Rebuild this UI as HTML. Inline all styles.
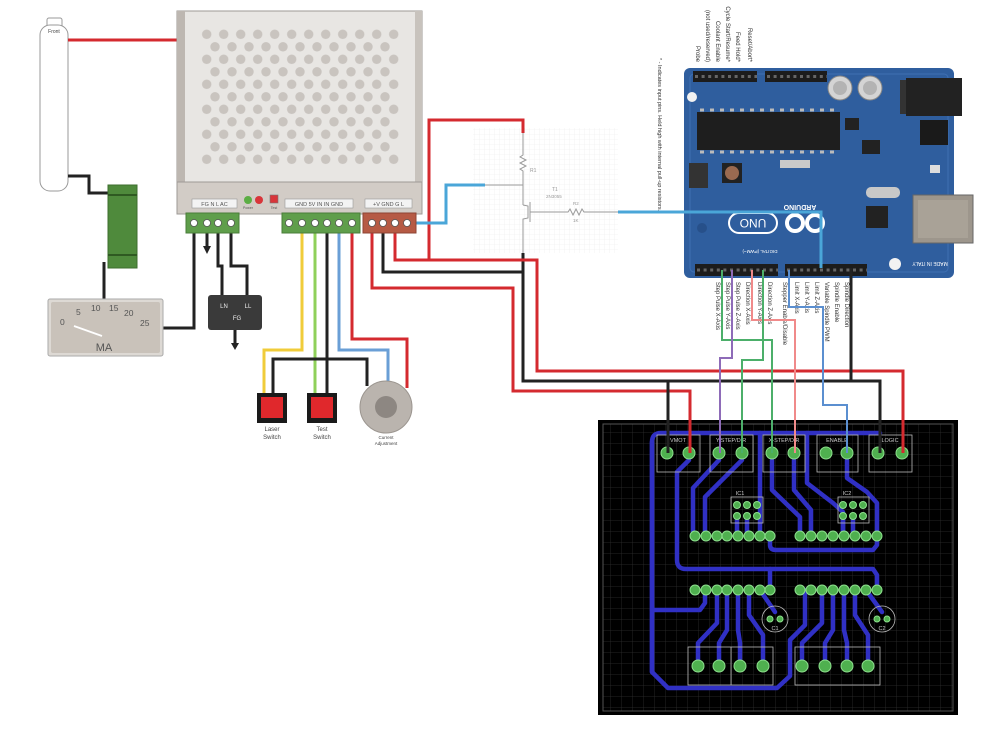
<!DOCTYPE html>
<html><head><meta charset="utf-8"><style>
html,body{margin:0;padding:0;background:#fff;}
svg{display:block;}
text{font-family:"Liberation Sans",sans-serif;}
</style></head><body>
<svg width="990" height="729" viewBox="0 0 990 729" xmlns="http://www.w3.org/2000/svg">
<defs>
<pattern id="dA" patternUnits="userSpaceOnUse" x="198.2" y="28.05" width="17" height="25"><circle cx="8.5" cy="6.25" r="4.7" fill="#c9c4bf"/></pattern>
<pattern id="dB" patternUnits="userSpaceOnUse" x="206.5" y="40.55" width="17" height="25"><circle cx="8.5" cy="6.25" r="4.7" fill="#c9c4bf"/></pattern>
<pattern id="sg" patternUnits="userSpaceOnUse" width="5" height="5"><path d="M5 0V5H0" fill="none" stroke="#ebebeb" stroke-width="0.6"/></pattern>
<pattern id="pg" patternUnits="userSpaceOnUse" x="600" y="422" width="11" height="11"><path d="M11 0V11H0" fill="none" stroke="#2e2e2e" stroke-width="0.8"/></pattern>
</defs>

<!-- ===== Tube ===== -->
<rect x="47" y="18" width="15" height="10" rx="2" fill="#fff" stroke="#999"/>
<rect x="40" y="25" width="28" height="166" rx="10" fill="#fff" stroke="#999"/>
<text x="54" y="33" font-size="5" text-anchor="middle" fill="#444">Front</text>

<!-- wires left -->
<g fill="none" stroke-width="3" stroke-linejoin="miter">
<path d="M68 40 H178" stroke="#d42a2f"/>
<path d="M68 176 H89 V193 H108" stroke="#222"/>
<path d="M104 262 V300" stroke="#222"/>
<path d="M163 328 H194 V223" stroke="#222"/>
</g>

<!-- green component -->
<rect x="108" y="185" width="29" height="83" fill="#4f8a3c" stroke="#3d6e2e"/>
<rect x="108" y="194" width="29" height="2" fill="#2f5a22"/>
<rect x="108" y="254" width="29" height="2" fill="#2f5a22"/>

<!-- meter -->
<rect x="48" y="299" width="115" height="57" rx="2" fill="#ddd9d4" stroke="#aaa"/>
<rect x="51" y="302" width="109" height="51" rx="2" fill="#c9c2ba"/>
<g font-size="8.5" fill="#555" font-family="Liberation Serif,serif">
<text x="60" y="325">0</text><text x="76" y="315">5</text><text x="91" y="311">10</text><text x="109" y="311">15</text><text x="124" y="316">20</text><text x="140" y="326">25</text>
</g>
<path d="M74 326 L102 336" stroke="#fff" stroke-width="1.8"/>
<text x="104" y="351" font-size="11" fill="#555" text-anchor="middle">MA</text>

<!-- ===== Power supply ===== -->
<rect x="177" y="11" width="245" height="171" fill="#e8e6e3" stroke="#9e9a96"/>
<rect x="177" y="11" width="8" height="171" fill="#bdb7b1"/>
<rect x="415" y="11" width="7" height="171" fill="#c8c3bd"/>
<rect x="200" y="28" width="200" height="138" fill="url(#dA)"/>
<rect x="208" y="40" width="184" height="114" fill="url(#dB)"/>
<rect x="177" y="182" width="245" height="32" fill="#d2ccc6" stroke="#9e9a96"/>
<rect x="192" y="199" width="45" height="9" fill="#f3f3f3" stroke="#999" stroke-width="0.6"/>
<text x="214.5" y="206" font-size="5.5" text-anchor="middle" fill="#555">FG N L AC</text>
<circle cx="248" cy="200" r="4" fill="#5cae44"/>
<circle cx="259" cy="200" r="4" fill="#d8353a"/>
<rect x="270" y="195" width="8" height="8" fill="#d8353a" stroke="#777" stroke-width="0.6"/>
<text x="248" y="209" font-size="3.5" text-anchor="middle" fill="#555">Power</text>
<text x="274" y="209" font-size="3.5" text-anchor="middle" fill="#555">Test</text>
<rect x="285" y="199" width="68" height="9" fill="#f3f3f3" stroke="#999" stroke-width="0.6"/>
<text x="319" y="206" font-size="5.5" text-anchor="middle" fill="#555">GND 5V IN IN GND</text>
<rect x="365" y="199" width="47" height="9" fill="#f3f3f3" stroke="#999" stroke-width="0.6"/>
<text x="388.5" y="206" font-size="5.5" text-anchor="middle" fill="#555">+V GND G L</text>

<!-- ===== Schematic ===== -->
<rect x="473" y="128" width="145" height="125" fill="url(#sg)"/>
<g stroke="#9a9a9a" stroke-width="1" fill="none">
<path d="M523 132 V155 l-3 2 l6 3 l-6 3 l6 3 l-6 3 l3 2 V205"/>
<path d="M485 185 H523"/>
<path d="M523 205 L528 206 V218 L523 219 V253"/>
<path d="M530 202 V222"/>
<path d="M530 212 H568 l2 -3 l3 6 l3 -6 l3 6 l3 -6 l2 3 H618"/>
</g>
<text x="530" y="172" font-size="5" fill="#999">R1</text>
<text x="552" y="191" font-size="5" fill="#999">T1</text>
<text x="546" y="198" font-size="4.5" fill="#999">2N3055</text>
<text x="573" y="205" font-size="4.5" fill="#999">R2</text>
<text x="573" y="222" font-size="4.5" fill="#999">1K</text>

<!-- ===== Arduino ===== -->
<rect x="684" y="68" width="270" height="210" rx="6" fill="#2f5e9e"/>
<rect x="690" y="74" width="258" height="198" rx="4" fill="none" stroke="#3f70b2" stroke-width="1"/>
<rect x="693" y="71" width="64" height="11" fill="#1c1c1c"/>
<rect x="765" y="71" width="62" height="11" fill="#1c1c1c"/>
<path d="M695 76.5 H757 M767 76.5 H827" stroke="#666" stroke-width="3" stroke-dasharray="3 3.6"/>
<rect x="695" y="264" width="83" height="12" fill="#1c1c1c"/>
<rect x="785" y="264" width="82" height="12" fill="#1c1c1c"/>
<path d="M697 270 H778 M787 270 H867" stroke="#666" stroke-width="3" stroke-dasharray="3 3.6"/>
<rect x="697" y="112" width="143" height="38" fill="#1e1e1e"/>
<path d="M700 110 H838 M700 152 H838" stroke="#bbb" stroke-width="3" stroke-dasharray="4 6"/>
<circle cx="840" cy="88" r="12" fill="#d4d4d4" stroke="#888"/><circle cx="840" cy="88" r="7" fill="#b3b3b3"/>
<circle cx="870" cy="88" r="12" fill="#d4d4d4" stroke="#888"/><circle cx="870" cy="88" r="7" fill="#b3b3b3"/>
<rect x="900" y="80" width="10" height="34" fill="#333"/>
<rect x="906" y="78" width="56" height="38" fill="#222"/>
<rect x="920" y="120" width="28" height="25" fill="#1a1a1a"/>
<rect x="862" y="140" width="18" height="14" fill="#222"/>
<rect x="845" y="118" width="14" height="12" fill="#222"/>
<rect x="689" y="163" width="19" height="25" fill="#333"/>
<rect x="722" y="163" width="20" height="20" fill="#222"/>
<circle cx="732" cy="173" r="7" fill="#9a6a50"/>
<rect x="780" y="160" width="30" height="8" fill="#c9c9c9"/>
<rect x="866" y="187" width="34" height="11" rx="5" fill="#c8c8c8"/>
<rect x="866" y="206" width="22" height="22" fill="#222"/>
<rect x="930" y="165" width="10" height="8" fill="#ddd"/>
<rect x="913" y="195" width="60" height="48" fill="#9d968c" stroke="#666"/>
<rect x="918" y="200" width="50" height="38" fill="#a9a297"/>
<rect x="729" y="213" width="48" height="20" rx="10" fill="none" stroke="#fff" stroke-width="2"/>
<text transform="translate(753,223) rotate(180)" font-size="12" text-anchor="middle" dominant-baseline="central" fill="#fff">UNO</text>
<circle cx="795" cy="223" r="8" fill="none" stroke="#fff" stroke-width="4"/>
<circle cx="815" cy="223" r="8" fill="none" stroke="#fff" stroke-width="4"/>
<text transform="translate(800,205) rotate(180)" font-size="7" font-weight="bold" text-anchor="middle" fill="#fff">ARDUINO</text>
<text transform="translate(760,250) rotate(180)" font-size="4.5" text-anchor="middle" fill="#fff">DIGITAL (PWM~)</text>
<text transform="translate(930,262) rotate(180)" font-size="5" text-anchor="middle" fill="#fff">MADE IN ITALY</text>
<circle cx="692" cy="97" r="5" fill="#f2f2f2"/>
<circle cx="895" cy="264" r="6" fill="#f2f2f2"/>
<circle cx="702" cy="228" r="5" fill="#27508a"/>

<!-- Arduino labels -->
<g font-size="6" fill="#333">
<text transform="translate(696,62) rotate(90)" text-anchor="end">Probe</text>
<text transform="translate(706,62) rotate(90)" text-anchor="end">(not used/reserved)</text>
<text transform="translate(716,62) rotate(90)" text-anchor="end">Coolant Enable</text>
<text transform="translate(726,62) rotate(90)" text-anchor="end">Cycle Start/Resume*</text>
<text transform="translate(736,62) rotate(90)" text-anchor="end">Feed Hold*</text>
<text transform="translate(748,62) rotate(90)" text-anchor="end">Reset/Abort*</text>
<text transform="translate(658,58) rotate(90)" font-size="5.5">* - Indicates input pins. Held high with internal pull-up resistors.</text>
<text transform="translate(716,282) rotate(90)">Step Pulse X-Axis</text>
<text transform="translate(726,282) rotate(90)">Step Pulse Y-Axis</text>
<text transform="translate(736,282) rotate(90)">Step Pulse Z-Axis</text>
<text transform="translate(746,282) rotate(90)">Direction X-Axis</text>
<text transform="translate(758,282) rotate(90)">Direction Y-Axis</text>
<text transform="translate(768,282) rotate(90)">Direction Z-Axis</text>
<text transform="translate(783,282) rotate(90)">Stepper Enable/Disable</text>
<text transform="translate(795,282) rotate(90)">Limit X-Axis</text>
<text transform="translate(805,282) rotate(90)">Limit Y-Axis</text>
<text transform="translate(815,282) rotate(90)">Limit Z-Axis</text>
<text transform="translate(825,282) rotate(90)">Variable Spindle PWM</text>
<text transform="translate(835,282) rotate(90)">Spindle Enable</text>
<text transform="translate(845,282) rotate(90)">Spindle Direction</text>
</g>

<!-- ===== PCB ===== -->
<rect x="598" y="420" width="360" height="295" fill="#000"/>
<rect x="603" y="424" width="350" height="287" fill="url(#pg)" stroke="#555" stroke-width="1"/>
<g fill="none" stroke="#3030c4" stroke-width="4.5" stroke-linejoin="round" stroke-linecap="round">
<path d="M652 672 V442 Q652 433 661 433 H880"/>
<path d="M652 442 V672 L668 688 H777 L790 676 V640 L805 625 V590"/>
<path d="M689 460 L677 472 V560 Q677 569 686 569 H873 L877 575 V590"/>
<path d="M770 569 V590"/>
<path d="M652 610 H700 L705 603 V590"/>
<path d="M719 460 L693 488 V536"/>
<path d="M742 460 L705 497 V536"/>
<path d="M760 433 V536"/>
<path d="M737 516 V536 M747 516 V536"/>
<path d="M772 460 V490 L800 517 V536"/>
<path d="M794 460 V490 L811 510 V536"/>
<path d="M807 433 V483 L833 503 L843 512 V536"/>
<path d="M847 460 V478 L867 492 L877 503 V536"/>
<path d="M843 516 V536 M853 516 V536"/>
<path d="M770 536 V545 Q770 550 776 550 H873 L877 545 V536"/>
<path d="M717 590 V623 L698 643 V666"/>
<path d="M727 590 V630 L719 643 V666"/>
<path d="M738 590 V630 L740 643 V666"/>
<path d="M749 590 V615 L763 635 V666"/>
<path d="M822 590 V623 L802 643 V666"/>
<path d="M833 590 V630 L825 643 V666"/>
<path d="M844 590 V630 L847 643 V666"/>
<path d="M855 590 V615 L868 635 V666"/>
<path d="M760 590 L775 612 M866 590 L882 612"/>
</g>
<g fill="none" stroke="#bbb" stroke-width="0.8">
<rect x="657" y="435" width="43" height="37"/><rect x="710" y="435" width="43" height="37"/>
<rect x="763" y="435" width="42" height="37"/><rect x="817" y="435" width="41" height="37"/>
<rect x="869" y="435" width="43" height="37"/>
<rect x="731" y="497" width="32" height="26"/><rect x="838" y="497" width="31" height="26"/>
<rect x="688" y="647" width="85" height="38"/><path d="M731 647 V685"/>
<rect x="795" y="647" width="85" height="38"/>
<circle cx="775" cy="619" r="13"/><circle cx="882" cy="619" r="13"/>
</g>
<g font-size="5.5" fill="#ccc" text-anchor="middle">
<text x="678" y="442">VMOT</text><text x="731" y="442">Y-STEP/DIR</text><text x="784" y="442">X-STEP/DIR</text>
<text x="837" y="442">ENABLE</text><text x="890" y="442">LOGIC</text>
<text x="740" y="495">IC1</text><text x="847" y="495">IC2</text>
<text x="775" y="630">C1</text><text x="882" y="630">C2</text>
</g>
<g fill="#4fb04f" stroke="#8ddf8d" stroke-width="1">
<circle cx="667" cy="453" r="6"/><circle cx="689" cy="453" r="6"/>
<circle cx="719" cy="453" r="6"/><circle cx="742" cy="453" r="6"/>
<circle cx="772" cy="453" r="6"/><circle cx="794" cy="453" r="6"/>
<circle cx="826" cy="453" r="6"/><circle cx="847" cy="453" r="6"/>
<circle cx="878" cy="453" r="6"/><circle cx="902" cy="453" r="6"/>
<circle cx="737" cy="505" r="3.5"/><circle cx="747" cy="505" r="3.5"/><circle cx="757" cy="505" r="3.5"/>
<circle cx="737" cy="516" r="3.5"/><circle cx="747" cy="516" r="3.5"/><circle cx="757" cy="516" r="3.5"/>
<circle cx="843" cy="505" r="3.5"/><circle cx="853" cy="505" r="3.5"/><circle cx="863" cy="505" r="3.5"/>
<circle cx="843" cy="516" r="3.5"/><circle cx="853" cy="516" r="3.5"/><circle cx="863" cy="516" r="3.5"/>
<circle cx="695" cy="536" r="5"/><circle cx="706" cy="536" r="5"/><circle cx="717" cy="536" r="5"/><circle cx="727" cy="536" r="5"/>
<circle cx="738" cy="536" r="5"/><circle cx="749" cy="536" r="5"/><circle cx="760" cy="536" r="5"/><circle cx="770" cy="536" r="5"/>
<circle cx="800" cy="536" r="5"/><circle cx="811" cy="536" r="5"/><circle cx="822" cy="536" r="5"/><circle cx="833" cy="536" r="5"/>
<circle cx="844" cy="536" r="5"/><circle cx="855" cy="536" r="5"/><circle cx="866" cy="536" r="5"/><circle cx="877" cy="536" r="5"/>
<circle cx="695" cy="590" r="5"/><circle cx="706" cy="590" r="5"/><circle cx="717" cy="590" r="5"/><circle cx="727" cy="590" r="5"/>
<circle cx="738" cy="590" r="5"/><circle cx="749" cy="590" r="5"/><circle cx="760" cy="590" r="5"/><circle cx="770" cy="590" r="5"/>
<circle cx="800" cy="590" r="5"/><circle cx="811" cy="590" r="5"/><circle cx="822" cy="590" r="5"/><circle cx="833" cy="590" r="5"/>
<circle cx="844" cy="590" r="5"/><circle cx="855" cy="590" r="5"/><circle cx="866" cy="590" r="5"/><circle cx="877" cy="590" r="5"/>
<circle cx="770" cy="619" r="3"/><circle cx="780" cy="619" r="3"/><circle cx="877" cy="619" r="3"/><circle cx="887" cy="619" r="3"/>
<circle cx="698" cy="666" r="6"/><circle cx="719" cy="666" r="6"/><circle cx="740" cy="666" r="6"/><circle cx="763" cy="666" r="6"/>
<circle cx="802" cy="666" r="6"/><circle cx="825" cy="666" r="6"/><circle cx="847" cy="666" r="6"/><circle cx="868" cy="666" r="6"/>
</g>

<!-- ===== Wires (main) ===== -->
<g fill="none" stroke-width="3" stroke-linejoin="miter">
<!-- left block -->
<path d="M194 223 V328" stroke="#222"/>
<path d="M207 223 V246" stroke="#222"/>
<path d="M218 223 V266 H222 V300" stroke="#222"/>
<path d="M231 223 V266 H247 V300" stroke="#222"/>
<path d="M235 318 V343" stroke="#222"/>
<!-- middle block -->
<path d="M302 223 V350 H264 V394" stroke="#f0cc3a"/>
<path d="M315 223 V394" stroke="#8fd05a"/>
<path d="M327 223 V394" stroke="#222"/>
<path d="M273 394 V359 H367 V386" stroke="#222"/>
<path d="M339 223 V350 H388 V382" stroke="#6a9fd6"/>
<path d="M352 223 V339 H407 V388" stroke="#d42a2f"/>
<!-- right block -->
<path d="M372 223 V288 H513 V391 H690 V453" stroke="#d42a2f"/>
<path d="M383 223 V272 H523 V381 H880 V453" stroke="#222"/>
<path d="M523 253 V272" stroke="#222"/>
<path d="M668 381 V453" stroke="#222"/>
<path d="M395 223 V260 H537 V371 H903 V453" stroke="#d42a2f"/>
<path d="M429 260 V120 H523 V133" stroke="#d42a2f"/>
<path d="M407 223 H446 V185 H485" stroke="#4aa6d8"/>
<path d="M618 212 H821 V268" stroke="#4aa6d8"/>
<!-- arduino to pcb -->
<path d="M851 268 V381" stroke="#222"/>
<path d="M722 270 V340 H772 V453" stroke="#4caf6a" stroke-width="2"/>
<path d="M732 270 V358 H720 V453" stroke="#8e6bb8" stroke-width="2"/>
<path d="M752 270 V320 H795 V453" stroke="#f08a8a" stroke-width="2"/>
<path d="M763 270 V360 H742 V453" stroke="#4caf6a" stroke-width="2"/>
<path d="M789 270 V307 H823 V405 H847 V453" stroke="#5b8fd0" stroke-width="2"/>
</g>
<polygon points="203,246 211,246 207,254" fill="#222"/>
<polygon points="231,343 239,343 235,350" fill="#222"/>

<!-- terminal blocks -->
<rect x="186" y="213" width="53" height="20" fill="#5f9e4b" stroke="#4a7d3a"/>
<rect x="282" y="213" width="78" height="20" fill="#5f9e4b" stroke="#4a7d3a"/>
<rect x="363" y="213" width="53" height="20" fill="#b65a44" stroke="#8e4434"/>
<g fill="#fff" stroke="#555" stroke-width="0.8">
<circle cx="194" cy="223" r="3.5"/><circle cx="207" cy="223" r="3.5"/><circle cx="218" cy="223" r="3.5"/><circle cx="231" cy="223" r="3.5"/>
<circle cx="289" cy="223" r="3.5"/><circle cx="302" cy="223" r="3.5"/><circle cx="315" cy="223" r="3.5"/><circle cx="327" cy="223" r="3.5"/><circle cx="339" cy="223" r="3.5"/><circle cx="352" cy="223" r="3.5"/>
<circle cx="372" cy="223" r="3.5"/><circle cx="383" cy="223" r="3.5"/><circle cx="395" cy="223" r="3.5"/><circle cx="407" cy="223" r="3.5"/>
</g>

<!-- LN box -->
<rect x="208" y="295" width="54" height="35" rx="3" fill="#3a3a3a"/>
<g font-size="6" fill="#eee" text-anchor="middle">
<text x="224" y="308">LN</text><text x="248" y="308">LL</text><text x="237" y="320">FG</text>
</g>

<!-- switches -->
<rect x="257" y="393" width="30" height="30" fill="#1a1a1a"/>
<rect x="261" y="397" width="22" height="21" fill="#e0282c"/>
<rect x="307" y="393" width="30" height="30" fill="#1a1a1a"/>
<rect x="311" y="397" width="22" height="21" fill="#e0282c"/>
<g font-size="6" fill="#444" text-anchor="middle" font-family="Liberation Serif,serif">
<text x="272" y="431" font-family="Liberation Serif,serif">Laser</text><text x="272" y="439" font-family="Liberation Serif,serif">Switch</text>
<text x="322" y="431" font-family="Liberation Serif,serif">Test</text><text x="322" y="439" font-family="Liberation Serif,serif">Switch</text>
</g>
<circle cx="386" cy="407" r="26" fill="#bab4ae" stroke="#9b958f"/>
<circle cx="386" cy="407" r="11" fill="#8d8782"/>
<text x="386" y="439" font-size="4.5" fill="#444" text-anchor="middle">Current</text>
<text x="386" y="445" font-size="4.5" fill="#444" text-anchor="middle">Adjustment</text>
</svg>
</body></html>
